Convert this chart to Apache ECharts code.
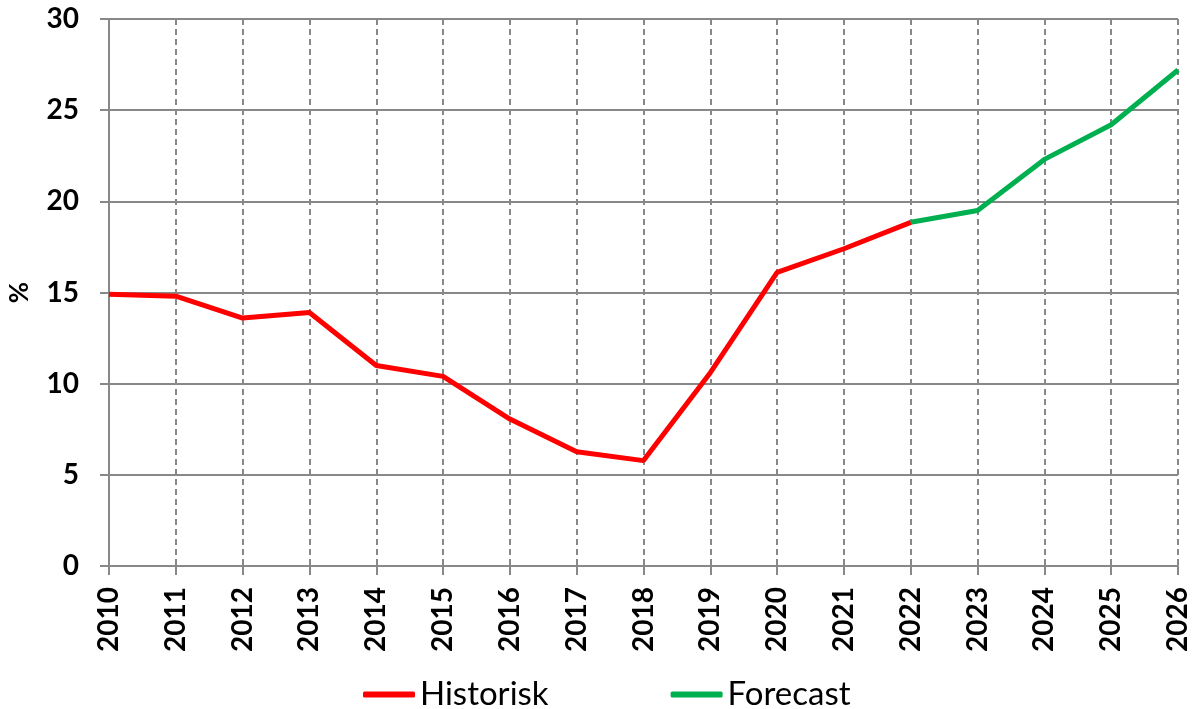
<!DOCTYPE html>
<html><head><meta charset="utf-8">
<script src="https://cdn.jsdelivr.net/npm/echarts@6/dist/echarts.min.js"></script>
<style>html,body{margin:0;padding:0;background:#fff}#c{width:1199px;height:709px}</style>
</head><body><div id="c"></div>
<script>
const years = ['2010','2011','2012','2013','2014','2015','2016','2017','2018','2019','2020','2021','2022','2023','2024','2025','2026'];
const historisk = [14.9, 14.8, 13.6, 13.9, 11.0, 10.4, 8.06, 6.27, 5.78, 10.6, 16.1, 17.4, 18.85, null, null, null, null];
const forecast = [null, null, null, null, null, null, null, null, null, null, null, null, 18.85, 19.5, 22.3, 24.2, 27.2];
const yTicks = [0, 5, 10, 15, 20, 25, 30];
const font = 'Lato, "Open Sans", "DejaVu Sans", sans-serif';
const chart = echarts.init(document.getElementById('c'), null, {renderer: 'canvas'});
chart.setOption({
  animation: false,
  grid: {left: 109, right: 21, top: 19, bottom: 143, containLabel: false, outerBoundsMode: 'none'},
  legend: {
    top: 673, left: 358, itemGap: 122, itemWidth: 52, itemHeight: 6,
    icon: 'roundRect',
    textStyle: {fontFamily: font, fontSize: 33, color: '#000', padding: [0,0,0,0]},
    data: ['Historisk', 'Forecast']
  },
  xAxis: {
    type: 'category', data: years, boundaryGap: false,
    axisLine: {lineStyle: {color: '#888', width: 2}},
    axisTick: {show: true, alignWithLabel: true, length: 9, lineStyle: {color: '#888', width: 2}},
    axisLabel: {rotate: 90, fontFamily: font, fontWeight: 'bold', fontSize: 28, color: '#000', margin: 21},
    splitLine: {show: true, lineStyle: {color: '#888', type: [6, 4], width: 2}}
  },
  yAxis: {
    type: 'value', min: yTicks[0], max: yTicks[yTicks.length - 1], interval: 5,
    name: '%', nameLocation: 'middle', nameGap: 76, nameRotate: 90,
    nameTextStyle: {fontFamily: font, fontWeight: 'bold', fontSize: 26, color: '#000'},
    axisLine: {show: true, lineStyle: {color: '#888', width: 2}},
    axisTick: {show: true, length: 9, lineStyle: {color: '#888', width: 2}},
    axisLabel: {fontFamily: font, fontWeight: 'bold', fontSize: 28, color: '#000', margin: 30},
    splitLine: {show: true, lineStyle: {color: '#888', width: 2}}
  },
  series: [
    {name: 'Historisk', type: 'line', data: historisk, showSymbol: false, symbol: 'none',
     lineStyle: {color: '#ff0000', width: 5}, itemStyle: {color: '#ff0000'}, connectNulls: false, z: 3},
    {name: 'Forecast', type: 'line', data: forecast, showSymbol: false, symbol: 'none',
     lineStyle: {color: '#00b050', width: 5}, itemStyle: {color: '#00b050'}, connectNulls: false, z: 4}
  ]
});
</script></body></html>
